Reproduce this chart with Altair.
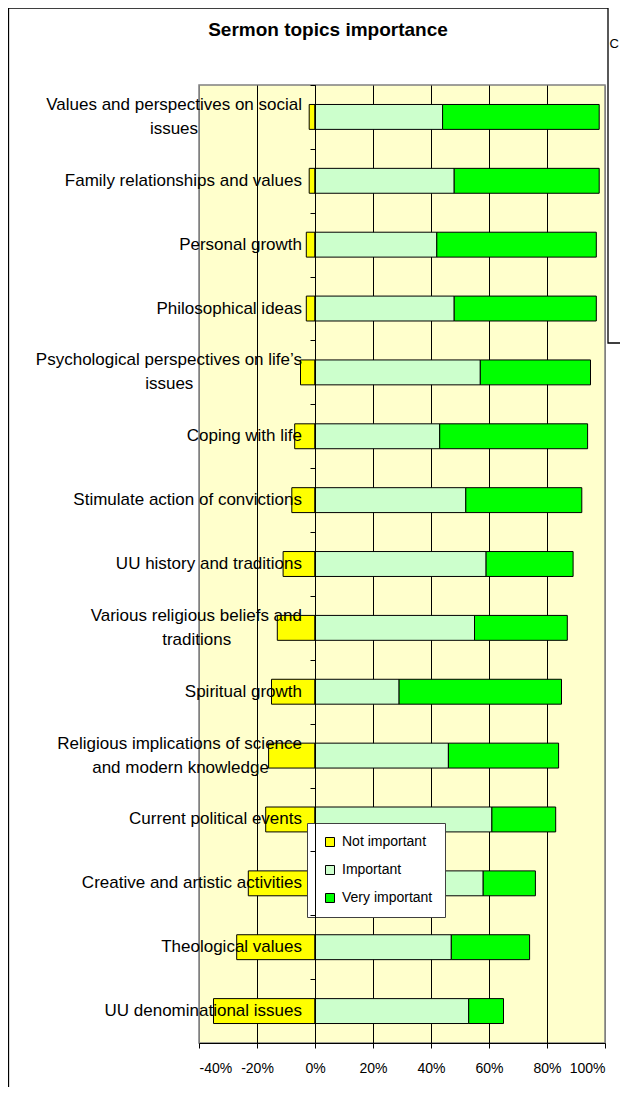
import altair as alt
import pandas as pd

# ---- data ----
categories = [
    ["Values and perspectives on social", "issues"],
    ["Family relationships and values"],
    ["Personal growth"],
    ["Philosophical ideas"],
    ["Psychological perspectives on life’s", "issues"],
    ["Coping with life"],
    ["Stimulate action of convictions"],
    ["UU history and traditions"],
    ["Various religious beliefs and", "traditions"],
    ["Spiritual growth"],
    ["Religious implications of science", "and modern knowledge"],
    ["Current political events"],
    ["Creative and artistic activities"],
    ["Theological values"],
    ["UU denominational issues"],
]
not_important = [2, 2, 3, 3, 5, 7, 8, 11, 13, 15, 16, 17, 23, 27, 35]
important = [44, 48, 42, 48, 57, 43, 52, 59, 55, 29, 46, 61, 58, 47, 53]
very_important = [54, 50, 55, 49, 38, 51, 40, 30, 32, 56, 38, 22, 18, 27, 12]
series = ["Not important", "Important", "Very important"]
colors = ["#FFFF00", "#CCFFCC", "#00FF00"]
x_ticks = [-40, -20, 0, 20, 40, 60, 80, 100]
title_text = "Sermon topics importance"
neighbor_text = "C"

# Arial/Liberation Sans advance widths (1/1000 em), used to centre wrapped lines
_W = dict(zip("abcdefghijklmnopqrstuvwxyz",
              [556, 556, 500, 556, 556, 278, 556, 556, 222, 222, 500, 222, 833,
               556, 556, 556, 556, 333, 500, 278, 556, 500, 722, 500, 500, 500]))
_W.update({" ": 278, "’": 222, "P": 667, "R": 722, "V": 667})


def _width(s):
    return sum(_W.get(ch, 667) for ch in s)


keys = [" ".join(c) for c in categories]

rows = []
for c, n, i, v in zip(keys, not_important, important, very_important):
    rows.append({"topic": c, "level": series[0], "start": -n, "end": 0})
    rows.append({"topic": c, "level": series[1], "start": 0, "end": i})
    rows.append({"topic": c, "level": series[2], "start": i, "end": i + v})
df = pd.DataFrame(rows)

# wrapped second lines are centred under the first line (as Excel does):
# right-aligned text padded with no-break spaces, closed by a zero-width char
lab_rows = []
for key, lines in zip(keys, categories):
    if len(lines) == 1:
        lab_rows.append({"topic": key, "text": lines[0], "part": "single"})
    else:
        lab_rows.append({"topic": key, "text": lines[0], "part": "first"})
        pad = round((_width(lines[0]) - _width(lines[1])) / 2 / 278)
        lab_rows.append({"topic": key,
                         "text": lines[1] + "\u00a0" * max(pad, 0) + "\u200b",
                         "part": "second"})
lab_df = pd.DataFrame(lab_rows)

FONT = "Liberation Sans"

y_scale = alt.Scale(paddingInner=0, paddingOuter=0)
y_axis = alt.Axis(
    title=None,
    offset=-116,
    tickBand="extent",
    tickSize=5,
    tickColor="black",
    domainColor="black",
    labels=False,
    zindex=1,
)
x_scale = alt.Scale(domain=[-40, 100], nice=False, zero=False)

bars = alt.Chart(df).mark_bar(
    stroke="black", strokeWidth=1, height={"band": 0.39}
).encode(
    x=alt.X(
        "start:Q",
        scale=x_scale,
        axis=alt.Axis(
            values=x_ticks,
            labelExpr="datum.value + '%'",
            title=None,
            grid=True,
            gridColor={
                "condition": {"test": "datum.value === -40 || datum.value === 100", "value": "#808080"},
                "value": "#000000",
            },
            gridWidth=1,
            tickSize=5,
            tickColor="black",
            domainColor="black",
            labelFontSize=14,
            labelColor="black",
            labelPadding=13,
            labelFont=FONT,
        ),
    ),
    x2="end:Q",
    y=alt.Y("topic:N", sort=keys, scale=y_scale, axis=y_axis),
    color=alt.Color(
        "level:N",
        scale=alt.Scale(domain=series, range=colors),
        legend=alt.Legend(
            title=None,
            orient="none",
            legendX=108,
            legendY=738,
            fillColor="white",
            strokeColor="#404040",
            padding=12,
            symbolType="square",
            symbolSize=81,
            symbolStrokeColor="black",
            symbolStrokeWidth=1,
            symbolOffset=4,
            labelOffset=5,
            rowPadding=14,
            labelFontSize=14,
            labelColor="black",
            labelFont=FONT,
        ),
    ),
)


def label_layer(part, dy):
    return alt.Chart(lab_df).transform_filter(
        alt.datum.part == part
    ).mark_text(
        align="right", baseline="middle", fontSize=17, font=FONT, color="black", dy=dy
    ).encode(
        y=alt.Y("topic:N", sort=keys, scale=y_scale, axis=y_axis),
        x=alt.value(103),
        text="text:N",
    )


labels_single = label_layer("single", 0)
labels_first = label_layer("first", -12)
labels_second = label_layer("second", 12)

one = pd.DataFrame({"t": [title_text]})

frame = alt.Chart(one).mark_rect(
    fill="transparent", stroke="black", strokeWidth=1.3
).encode(
    x=alt.value(-190.5), x2=alt.value(440), y=alt.value(-77), y2=alt.value(1020)
)

title = alt.Chart(one).mark_text(
    fontSize=19, fontWeight="bold", align="center", baseline="middle", color="black", font=FONT
).encode(text="t:N", x=alt.value(129), y=alt.value(-55))

neighbor_box = alt.Chart(one).mark_rect(
    fill="white", stroke="black", strokeWidth=1.3
).encode(
    x=alt.value(409), x2=alt.value(440), y=alt.value(-95), y2=alt.value(258)
)

neighbor = alt.Chart(pd.DataFrame({"t": [neighbor_text]})).mark_text(
    fontSize=13, align="left", baseline="middle", color="black", font=FONT
).encode(text="t:N", x=alt.value(410.5), y=alt.value(-41))

chart = alt.layer(
    frame, bars, labels_single, labels_first, labels_second, title, neighbor_box, neighbor
).properties(
    width=406,
    height=958,
    padding={"left": 191, "top": 77, "right": 15, "bottom": 44},
    autosize="none",
    background="white",
).configure(font=FONT).configure_view(
    fill="#FFFFCC", stroke="#808080", strokeWidth=1.5
)

chart.save("out.html", embed_options={"renderer": "svg", "actions": False})
